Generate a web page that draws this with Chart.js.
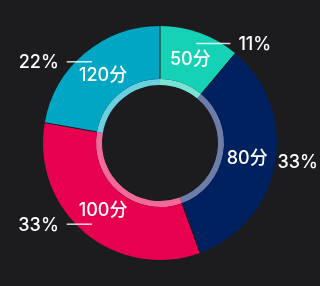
<!DOCTYPE html>
<html>
<head>
<meta charset="utf-8">
<script src="https://cdn.jsdelivr.net/npm/chart.js@4.4.1/dist/chart.umd.min.js"></script>
<style>
  html, body { margin: 0; padding: 0; background: #1c1c1e; }
  #wrap { width: 320px; height: 286px; }
</style>
</head>
<body>
<div id="wrap"><canvas id="donut"></canvas></div>
<script>
// data
const names = ['50分', '80分', '100分', '120分'];
const shares = [1, 3, 3, 2];
const colors = ['#15d1b5', '#00215f', '#e6004f', '#00a7c4'];
const bandColors = ['#7ae4d4', '#6b7da8', '#f0699a', '#6ccfe0'];

const BG = '#1c1c1e';
const FONT = 'Inter, "Noto Sans CJK SC", sans-serif';

const total = shares.reduce((a, b) => a + b, 0);
const pctLabels = shares.map(v => Math.round(v / total * 100) + '%');

// draws segment separators, inner labels and the outside percents
const labelPlugin = {
  id: 'donutLabels',
  afterDatasetsDraw(chart) {
    const ctx = chart.ctx;
    const arcs = chart.getDatasetMeta(0).data;
    const W = chart.width;
    ctx.save();

    // thin dark separators between slices
    ctx.strokeStyle = BG;
    ctx.lineWidth = 1;
    arcs.forEach(arc => {
      const a = arc.startAngle;
      ctx.beginPath();
      ctx.moveTo(arc.x + Math.cos(a) * arc.innerRadius, arc.y + Math.sin(a) * arc.innerRadius);
      ctx.lineTo(arc.x + Math.cos(a) * arc.outerRadius, arc.y + Math.sin(a) * arc.outerRadius);
      ctx.stroke();
    });

    ctx.fillStyle = '#ffffff';
    ctx.textBaseline = 'middle';

    arcs.forEach((arc, i) => {
      const mid = (arc.startAngle + arc.endAngle) / 2;
      const cx = arc.x, cy = arc.y;
      const R = arc.outerRadius;

      // inner label
      const rIn = (arc.innerRadius + R) / 2 - 2;
      ctx.font = '500 18px ' + FONT;
      ctx.textAlign = 'center';
      ctx.fillText(names[i], cx + Math.cos(mid) * rIn, cy + Math.sin(mid) * rIn);

      // leader line + percent
      const r0 = R - 11;
      const x0 = cx + Math.cos(mid) * r0;
      const y0 = cy + Math.sin(mid) * r0;
      const right = Math.cos(mid) >= 0;
      const dy = y0 - cy;
      const edge = Math.sqrt(Math.max(R * R - dy * dy, 0));
      let x1 = right ? cx + edge + 9 : cx - edge - 9;
      ctx.font = '500 18px ' + FONT;
      const tw = ctx.measureText(pctLabels[i]).width;
      let tx = right ? x1 + 8 : x1 - 8;
      let clamped = false;
      if (right && tx + tw > W - 2) { tx = W - 2 - tw; clamped = true; }
      if (!right && tx - tw < 2) { tx = 2 + tw; clamped = true; }
      if (!clamped) {
        ctx.strokeStyle = 'rgba(255,255,255,0.85)';
        ctx.lineWidth = 1.5;
        ctx.beginPath();
        ctx.moveTo(x0, y0);
        ctx.lineTo(x1, y0);
        ctx.stroke();
      }
      ctx.textAlign = right ? 'left' : 'right';
      ctx.fillText(pctLabels[i], tx, y0 + 1);
    });
    ctx.restore();
  }
};

new Chart(document.getElementById('donut'), {
  type: 'doughnut',
  data: {
    labels: names,
    datasets: [
      { data: shares, backgroundColor: colors, borderWidth: 0, weight: 53 },
      { data: shares, backgroundColor: bandColors, borderWidth: 0, weight: 6 }
    ]
  },
  options: {
    responsive: true,
    maintainAspectRatio: false,
    animation: false,
    radius: 117,
    cutout: '49.6%',
    layout: { padding: 0 },
    plugins: {
      legend: { display: false },
      tooltip: { enabled: false }
    }
  },
  plugins: [labelPlugin]
});
</script>
</body>
</html>
